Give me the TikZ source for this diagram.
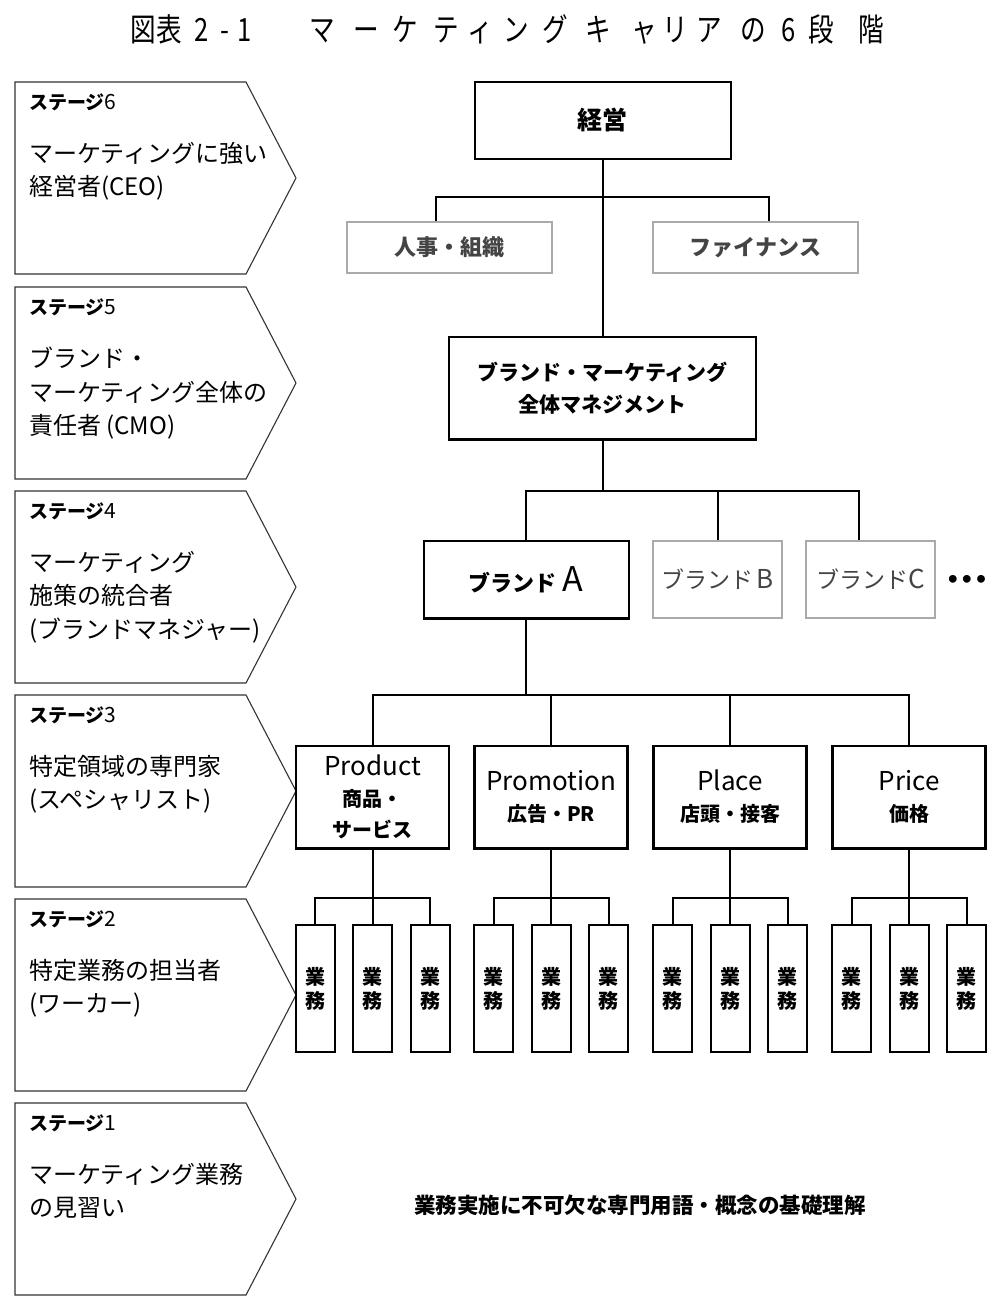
\documentclass[tikz,border=0pt]{standalone}
\usepackage{fontspec}
\setmainfont{Noto Sans CJK JP}
\newfontfamily\titlefont{Noto Sans CJK JP}[FakeStretch=0.8]
\newfontfamily\dejavu{DejaVu Sans}
\usetikzlibrary{calc}
\definecolor{gline}{HTML}{AAAAAA}
\definecolor{gtext}{HTML}{444444}
\definecolor{sline}{HTML}{333333}
\newcommand\fs[2]{\fontsize{#1}{#2}\selectfont}
\tikzset{
 stagebox/.style={draw=sline, line width=1.1pt, line join=miter},
 stagehead/.style={anchor=west, inner sep=0pt, font=\fs{19}{19}},
 stagebody/.style={anchor=north west, inner sep=0pt, align=left, font=\fs{24}{33.5}},
 blackbox/.style={draw=black, line width=2.4pt, inner sep=0pt, align=center},
 graybox/.style={draw=gline, line width=2.2pt, inner sep=0pt, align=center, text=gtext},
 conn/.style={draw=black, line width=2pt, line join=miter},
 titlech/.style={inner sep=0pt, anchor=base, font=\titlefont\fs{32}{32}},
 pbox/.style={blackbox, minimum width=153pt, minimum height=102.6pt, font=\bfseries\fs{20}{31}},
 tbox/.style={blackbox, line width=2pt, minimum width=39pt, minimum height=126.7pt, font=\bfseries\fs{20}{24}},
}
\newcommand\stagearrow[3]{%
 \draw[stagebox] (15,#1) -- (246,#1) -- (296,#1+96) -- (246,#1+192) -- (15,#1+192) -- cycle;
 \node[stagehead] (sh#2) at (29,#1+20) {{\bfseries ステージ}{\fs{21}{21}#2}};
 \node[stagebody] (sb#2) at (29,#1+60) {#3};
}
\begin{document}
\begin{tikzpicture}[x=1pt,y=-1pt]
\useasboundingbox (0,0) rectangle (1000,1304);
% title
\foreach \c/\x [count=\k] in {図/142.8, 表/169.2, 2/202, -/225, 1/245, マ/322.3, ー/366.7, ケ/405, テ/445.8, ィ/480, ン/516.7, グ/555.7, キ/598.3, ャ/644, リ/675.7, ア/709, の/753.3, 6/788.3, 段/821.7, 階/871.7}
  \node[titlech] (t\k) at (\x,41) {\c};
% stages
\stagearrow{82}{6}{マーケティングに強い\\経営者(CEO)}
\stagearrow{287}{5}{ブランド・\\マーケティング全体の\\責任者 (CMO)}
\stagearrow{491}{4}{マーケティング\\施策の統合者\\(ブランドマネジャー)}
\stagearrow{695}{3}{特定領域の専門家\\(スペシャリスト)}
\stagearrow{899}{2}{特定業務の担当者\\(ワーカー)}
\stagearrow{1103}{1}{マーケティング業務\\の見習い}
% org chart
\node[blackbox, minimum width=256pt, minimum height=77pt, font=\bfseries\fs{25}{25}] (keiei) at (602.7,120.4) {経営};
\node[graybox, minimum width=205pt, minimum height=51.6pt, font=\bfseries\fs{22}{22}] (jinji) at (449.5,247.5) {人事・組織};
\node[graybox, minimum width=205pt, minimum height=51.6pt, font=\bfseries\fs{22}{22}] (fin) at (755.5,247.5) {ファイナンス};
\node[blackbox, minimum width=307pt, minimum height=102.6pt, font=\bfseries\fs{21}{31.6}] (bm) at (602.7,388) {ブランド・マーケティング\\全体マネジメント};
\node[blackbox, minimum width=205pt, minimum height=77.6pt, font=\bfseries\fs{22}{22}] (ba) at (526.3,579.5) {ブランド\kern6pt{\mdseries\fs{34}{34}A}};
\node[graybox, minimum width=129pt, minimum height=77pt, font=\fs{23}{23}] (bb) at (717.6,579.2) {ブランド\,{\fs{26}{26}B}};
\node[graybox, minimum width=129pt, minimum height=77pt, font=\fs{23}{23}] (bc) at (870.7,579.2) {ブランド{\fs{26}{26}C}};
\node[inner sep=0pt, font=\dejavu\bfseries\fs{22}{22}] (dots) at (967,581) {•••};
\coordinate (j1) at (436,196.7);
\coordinate (j2) at (768.6,196.7);
\draw[conn] (keiei.south) -- (bm.north);
\draw[conn] (j1 |- jinji.north) -- (j1) -- (j2) -- (j2 |- fin.north);
\coordinate (k1) at (526.3,490.7);
\coordinate (k2) at (858.5,490.7);
\draw[conn] (bm.south) -- (bm.south |- k1);
\draw[conn] (ba.north) -- (k1) -- (k2) -- (k2 |- bc.north);
\draw[conn] (bb.north) -- (bb.north |- k1);
% 4P
\node[pbox] (p1) at (372.5,797) {{\mdseries\fs{26}{31}Product}\\商品・\\サービス};
\node[pbox] (p2) at (551,797) {{\mdseries\fs{26}{31}Promotion}\\広告・PR};
\node[pbox] (p3) at (730,797) {{\mdseries\fs{26}{31}Place}\\店頭・接客};
\node[pbox] (p4) at (909,797) {{\mdseries\fs{26}{31}Price}\\価格};
\coordinate (m1) at (372.5,695);
\coordinate (m2) at (909,695);
\draw[conn] (ba.south) -- (ba.south |- m1);
\draw[conn] (p1.north) -- (m1) -- (m2) -- (p4.north);
\draw[conn] (p2.north) -- (p2.north |- m1);
\draw[conn] (p3.north) -- (p3.north |- m1);
\foreach \i/\c in {1/372.5,2/551,3/730,4/909} {
  \node[tbox] (wa\i) at (\c-57.5,988.4) {業\\務};
  \node[tbox] (wb\i) at (\c,988.4) {業\\務};
  \node[tbox] (wc\i) at (\c+57.5,988.4) {業\\務};
  \draw[conn] (p\i.south) -- (wb\i.north);
  \draw[conn] (wa\i.north) -- ++(0,-26) -| (wc\i.north);
}
\node[inner sep=0pt, font=\bfseries\fs{21.5}{21.5}] (base) at (640,1205) {業務実施に不可欠な専門用語・概念の基礎理解};
\end{tikzpicture}
\end{document}
